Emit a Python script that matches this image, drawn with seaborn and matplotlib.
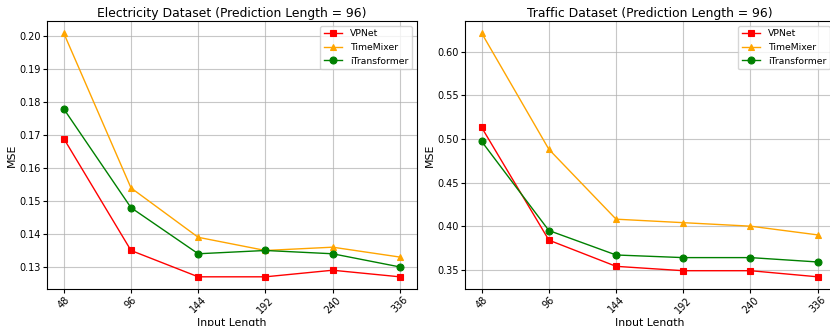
import pandas as pd
import matplotlib
matplotlib.use("Agg")
import matplotlib.pyplot as plt
import seaborn as sns

input_lengths = ["48", "96", "144", "192", "240", "336"]
models = ["VPNet", "TimeMixer", "iTransformer"]

elec_vpnet = [0.169, 0.135, 0.127, 0.127, 0.129, 0.127]
elec_timemixer = [0.201, 0.154, 0.139, 0.135, 0.136, 0.133]
elec_itransformer = [0.178, 0.148, 0.134, 0.135, 0.134, 0.130]

traffic_vpnet = [0.513, 0.384, 0.354, 0.349, 0.349, 0.342]
traffic_timemixer = [0.621, 0.488, 0.408, 0.404, 0.400, 0.390]
traffic_itransformer = [0.497, 0.395, 0.367, 0.364, 0.364, 0.359]

colors = {"VPNet": "red", "TimeMixer": "orange", "iTransformer": "green"}
markers = {"VPNet": "s", "TimeMixer": "^", "iTransformer": "o"}


def make_frame(series):
    rows = []
    for model, values in zip(models, series):
        for x, v in zip(input_lengths, values):
            rows.append({"Input Length": x, "MSE": v, "model": model})
    return pd.DataFrame(rows)


def draw(ax, df, title):
    for model in models:
        sub = df[df["model"] == model]
        sns.lineplot(data=sub, x="Input Length", y="MSE", ax=ax, sort=False,
                     color=colors[model], marker=markers[model], markersize=5,
                     markeredgecolor=colors[model], markeredgewidth=0.8,
                     linewidth=1.0, label=model)
    ax.set_title(title, fontsize=8.9, pad=3)
    ax.set_xlabel("Input Length", fontsize=7.8, labelpad=2)
    ax.set_ylabel("MSE", fontsize=7.8, labelpad=2)
    ax.tick_params(axis="both", labelsize=7, length=2.7, pad=1.5)
    ax.tick_params(axis="x", labelrotation=45)
    ax.grid(True, alpha=0.7)
    ax.legend(loc="upper right", fontsize=6.7)


fig = plt.figure(figsize=(8.3, 3.26), dpi=100)
ax1 = fig.add_axes([0.0566, 0.1135, 0.4454, 0.8221])
ax2 = fig.add_axes([0.5601, 0.1135, 0.4453, 0.8221])

draw(ax1, make_frame([elec_vpnet, elec_timemixer, elec_itransformer]),
     "Electricity Dataset (Prediction Length = 96)")
draw(ax2, make_frame([traffic_vpnet, traffic_timemixer, traffic_itransformer]),
     "Traffic Dataset (Prediction Length = 96)")

fig.savefig("out.png", dpi=100)
